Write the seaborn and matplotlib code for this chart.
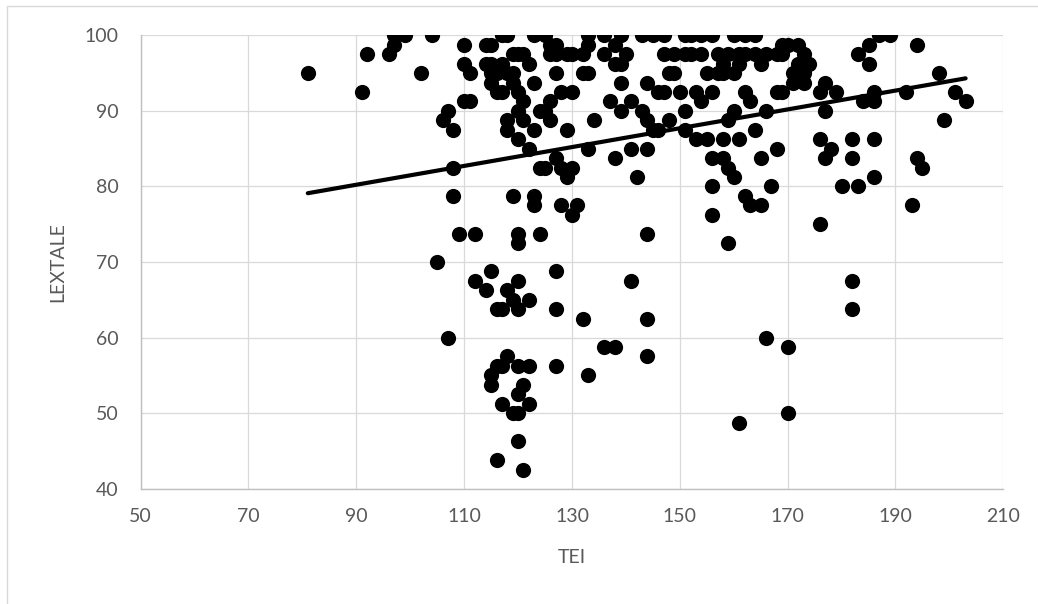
"""
plot.py
-------
Scatter of LEXTALE against TEI with a linear trendline.
"""

import numpy as np
import pandas as pd
import matplotlib
matplotlib.use("Agg")
import matplotlib.pyplot as plt
from matplotlib.lines import Line2D
import seaborn as sns


# ── Data ─────────────────────────────────────────────────────────────────────
tei = [
    81, 91, 92, 96, 97, 97, 99, 104, 102,
    110, 110, 111, 110, 111, 107, 106, 108, 108, 108,
    109, 112, 105, 107,
    117, 118, 114, 115, 119, 120, 114, 115, 117, 115, 116, 118, 115, 116, 119, 120,
    121, 120, 121, 118, 118, 120, 122, 123, 123, 122, 121, 124, 124, 119, 123, 123, 123,
    117, 119,
    125, 133, 136, 139, 143, 145, 147, 151, 152, 154, 156, 160, 162, 164,
    126, 127, 133, 138,
    126, 127, 129, 130, 132, 136, 140, 147, 149, 151, 152, 154, 157, 159, 161, 162,
    164, 166, 168,
    138, 139, 158, 161, 165,
    127, 132, 133, 148, 149, 155, 157, 158, 160,
    139, 144,
    128, 130, 146, 147, 150, 153, 156, 162, 168,
    126, 137, 141, 154, 163,
    125, 139, 143, 151, 160, 166,
    126, 134, 144, 148, 159,
    129, 145, 146, 151, 164,
    153, 155, 158, 161,
    133, 141, 144, 168,
    127, 138, 156, 158, 165,
    125, 128, 130, 159,
    129, 142, 160,
    156, 167,
    162,
    128, 131, 163, 165,
    130, 156,
    169, 170, 172, 169, 173, 174, 172, 171, 173, 171, 173, 169,
    176, 177, 179, 177,
    184, 186, 186, 183, 185, 187, 189, 185,
    192, 194, 198, 201, 203, 199,
    176, 178, 177, 182, 182, 186,
    194, 195, 180, 183, 186, 193, 176,
    120, 120, 124, 115, 112, 120, 114, 118, 119, 122, 116, 117, 120, 127, 127, 132,
    141, 136, 138, 118, 116, 117, 120, 122, 127, 115, 115, 133, 121, 120, 117, 122,
    119, 120, 120, 116, 121,
    144, 159, 144, 144, 166, 170, 182, 182, 161, 170,
]

lextale = [
    95, 92.5, 97.5, 97.5, 98.75, 100, 100, 100, 95,
    98.75, 96.25, 95, 91.25, 91.25, 90, 88.75, 87.5, 82.5, 78.75,
    73.75, 73.75, 70, 60,
    100, 100, 98.75, 98.75, 97.5, 97.5, 96.25, 96.25, 96.25, 95, 95, 95, 93.75, 92.5,
    93.75, 92.5,
    91.25, 90, 88.75, 88.75, 87.5, 86.25, 85, 87.5, 93.75, 96.25, 97.5, 90, 82.5, 78.75,
    78.75, 77.5, 100,
    92.5, 95,
    100, 100, 100, 100, 100, 100, 100, 100, 100, 100, 100, 100, 100, 100,
    98.75, 98.75, 98.75, 98.75,
    97.5, 97.5, 97.5, 97.5, 97.5, 97.5, 97.5, 97.5, 97.5, 97.5, 97.5, 97.5, 97.5, 97.5,
    97.5, 97.5, 97.5, 97.5, 97.5,
    96.25, 96.25, 96.25, 96.25, 96.25,
    95, 95, 95, 95, 95, 95, 95, 95, 95,
    93.75, 93.75,
    92.5, 92.5, 92.5, 92.5, 92.5, 92.5, 92.5, 92.5, 92.5,
    91.25, 91.25, 91.25, 91.25, 91.25,
    90, 90, 90, 90, 90, 90,
    88.75, 88.75, 88.75, 88.75, 88.75,
    87.5, 87.5, 87.5, 87.5, 87.5,
    86.25, 86.25, 86.25, 86.25,
    85, 85, 85, 85,
    83.75, 83.75, 83.75, 83.75, 83.75,
    82.5, 82.5, 82.5, 82.5,
    81.25, 81.25, 81.25,
    80, 80,
    78.75,
    77.5, 77.5, 77.5, 77.5,
    76.25, 76.25,
    98.75, 98.75, 98.75, 97.5, 97.5, 96.25, 96.25, 95, 95, 93.75, 93.75, 92.5,
    92.5, 93.75, 92.5, 90,
    91.25, 92.5, 91.25, 97.5, 98.75, 100, 100, 96.25,
    92.5, 98.75, 95, 92.5, 91.25, 88.75,
    86.25, 85, 83.75, 86.25, 83.75, 86.25,
    83.75, 82.5, 80, 80, 81.25, 77.5, 75,
    73.75, 72.5, 73.75, 68.75, 67.5, 67.5, 66.25, 66.25, 65, 65, 63.75, 63.75, 63.75,
    68.75, 63.75, 62.5,
    67.5, 58.75, 58.75, 57.5, 56.25, 56.25, 56.25, 56.25, 56.25, 55, 53.75, 55, 53.75,
    52.5, 51.25, 51.25,
    50, 50, 46.25, 43.75, 42.5,
    73.75, 72.5, 62.5, 57.5, 60, 58.75, 67.5, 63.75, 48.75, 50,
]

# Excel linear trendline, end points
trend_tei = [81, 203]
trend_lextale = [79.1, 94.3]

x_ticks = [50, 70, 90, 110, 130, 150, 170, 190, 210]
y_ticks = [40, 50, 60, 70, 80, 90, 100]

# ── Style ────────────────────────────────────────────────────────────────────
sns.set_theme(style="whitegrid")
plt.rcParams["font.family"] = ["Lato", "DejaVu Sans"]

GRID = "#D9D9D9"
AXIS = "#BFBFBF"
TEXT = "#595959"

df = pd.DataFrame({"TEI": tei, "LEXTALE": lextale})

fig = plt.figure(figsize=(10.38, 6.04), dpi=100)
ax = fig.add_axes([0.1355, 0.1909, 0.8311, 0.7507])

sns.scatterplot(
    data=df, x="TEI", y="LEXTALE", ax=ax,
    color="black", s=120, linewidth=0, zorder=3,
)

sns.lineplot(x=trend_tei, y=trend_lextale, ax=ax, color="black", lw=3.0,
             solid_capstyle="round", zorder=4)

ax.set_xlim(50, 210)
ax.set_ylim(40, 100)
ax.set_xticks(x_ticks)
ax.set_yticks(y_ticks)

ax.grid(True, color=GRID, lw=0.9)
for side in ("top", "right"):
    ax.spines[side].set_visible(False)
for side in ("left", "bottom"):
    ax.spines[side].set_color(AXIS)
    ax.spines[side].set_linewidth(1.0)

ax.tick_params(axis="both", length=0, labelsize=14, labelcolor=TEXT)
ax.tick_params(axis="x", pad=14)
ax.tick_params(axis="y", pad=16)

ax.set_xlabel("TEI", fontsize=14, color=TEXT, labelpad=17)
ax.set_ylabel("LEXTALE", fontsize=14, color=TEXT, labelpad=13)

# ── Chart-area border (left and top edges visible in the reference) ─────────
fig.add_artist(Line2D([0.007, 0.007], [0.0, 0.990], transform=fig.transFigure,
                      color=GRID, lw=1.0))
fig.add_artist(Line2D([0.007, 1.0], [0.990, 0.990], transform=fig.transFigure,
                      color=GRID, lw=1.0))

fig.savefig("out.png", dpi=100)
